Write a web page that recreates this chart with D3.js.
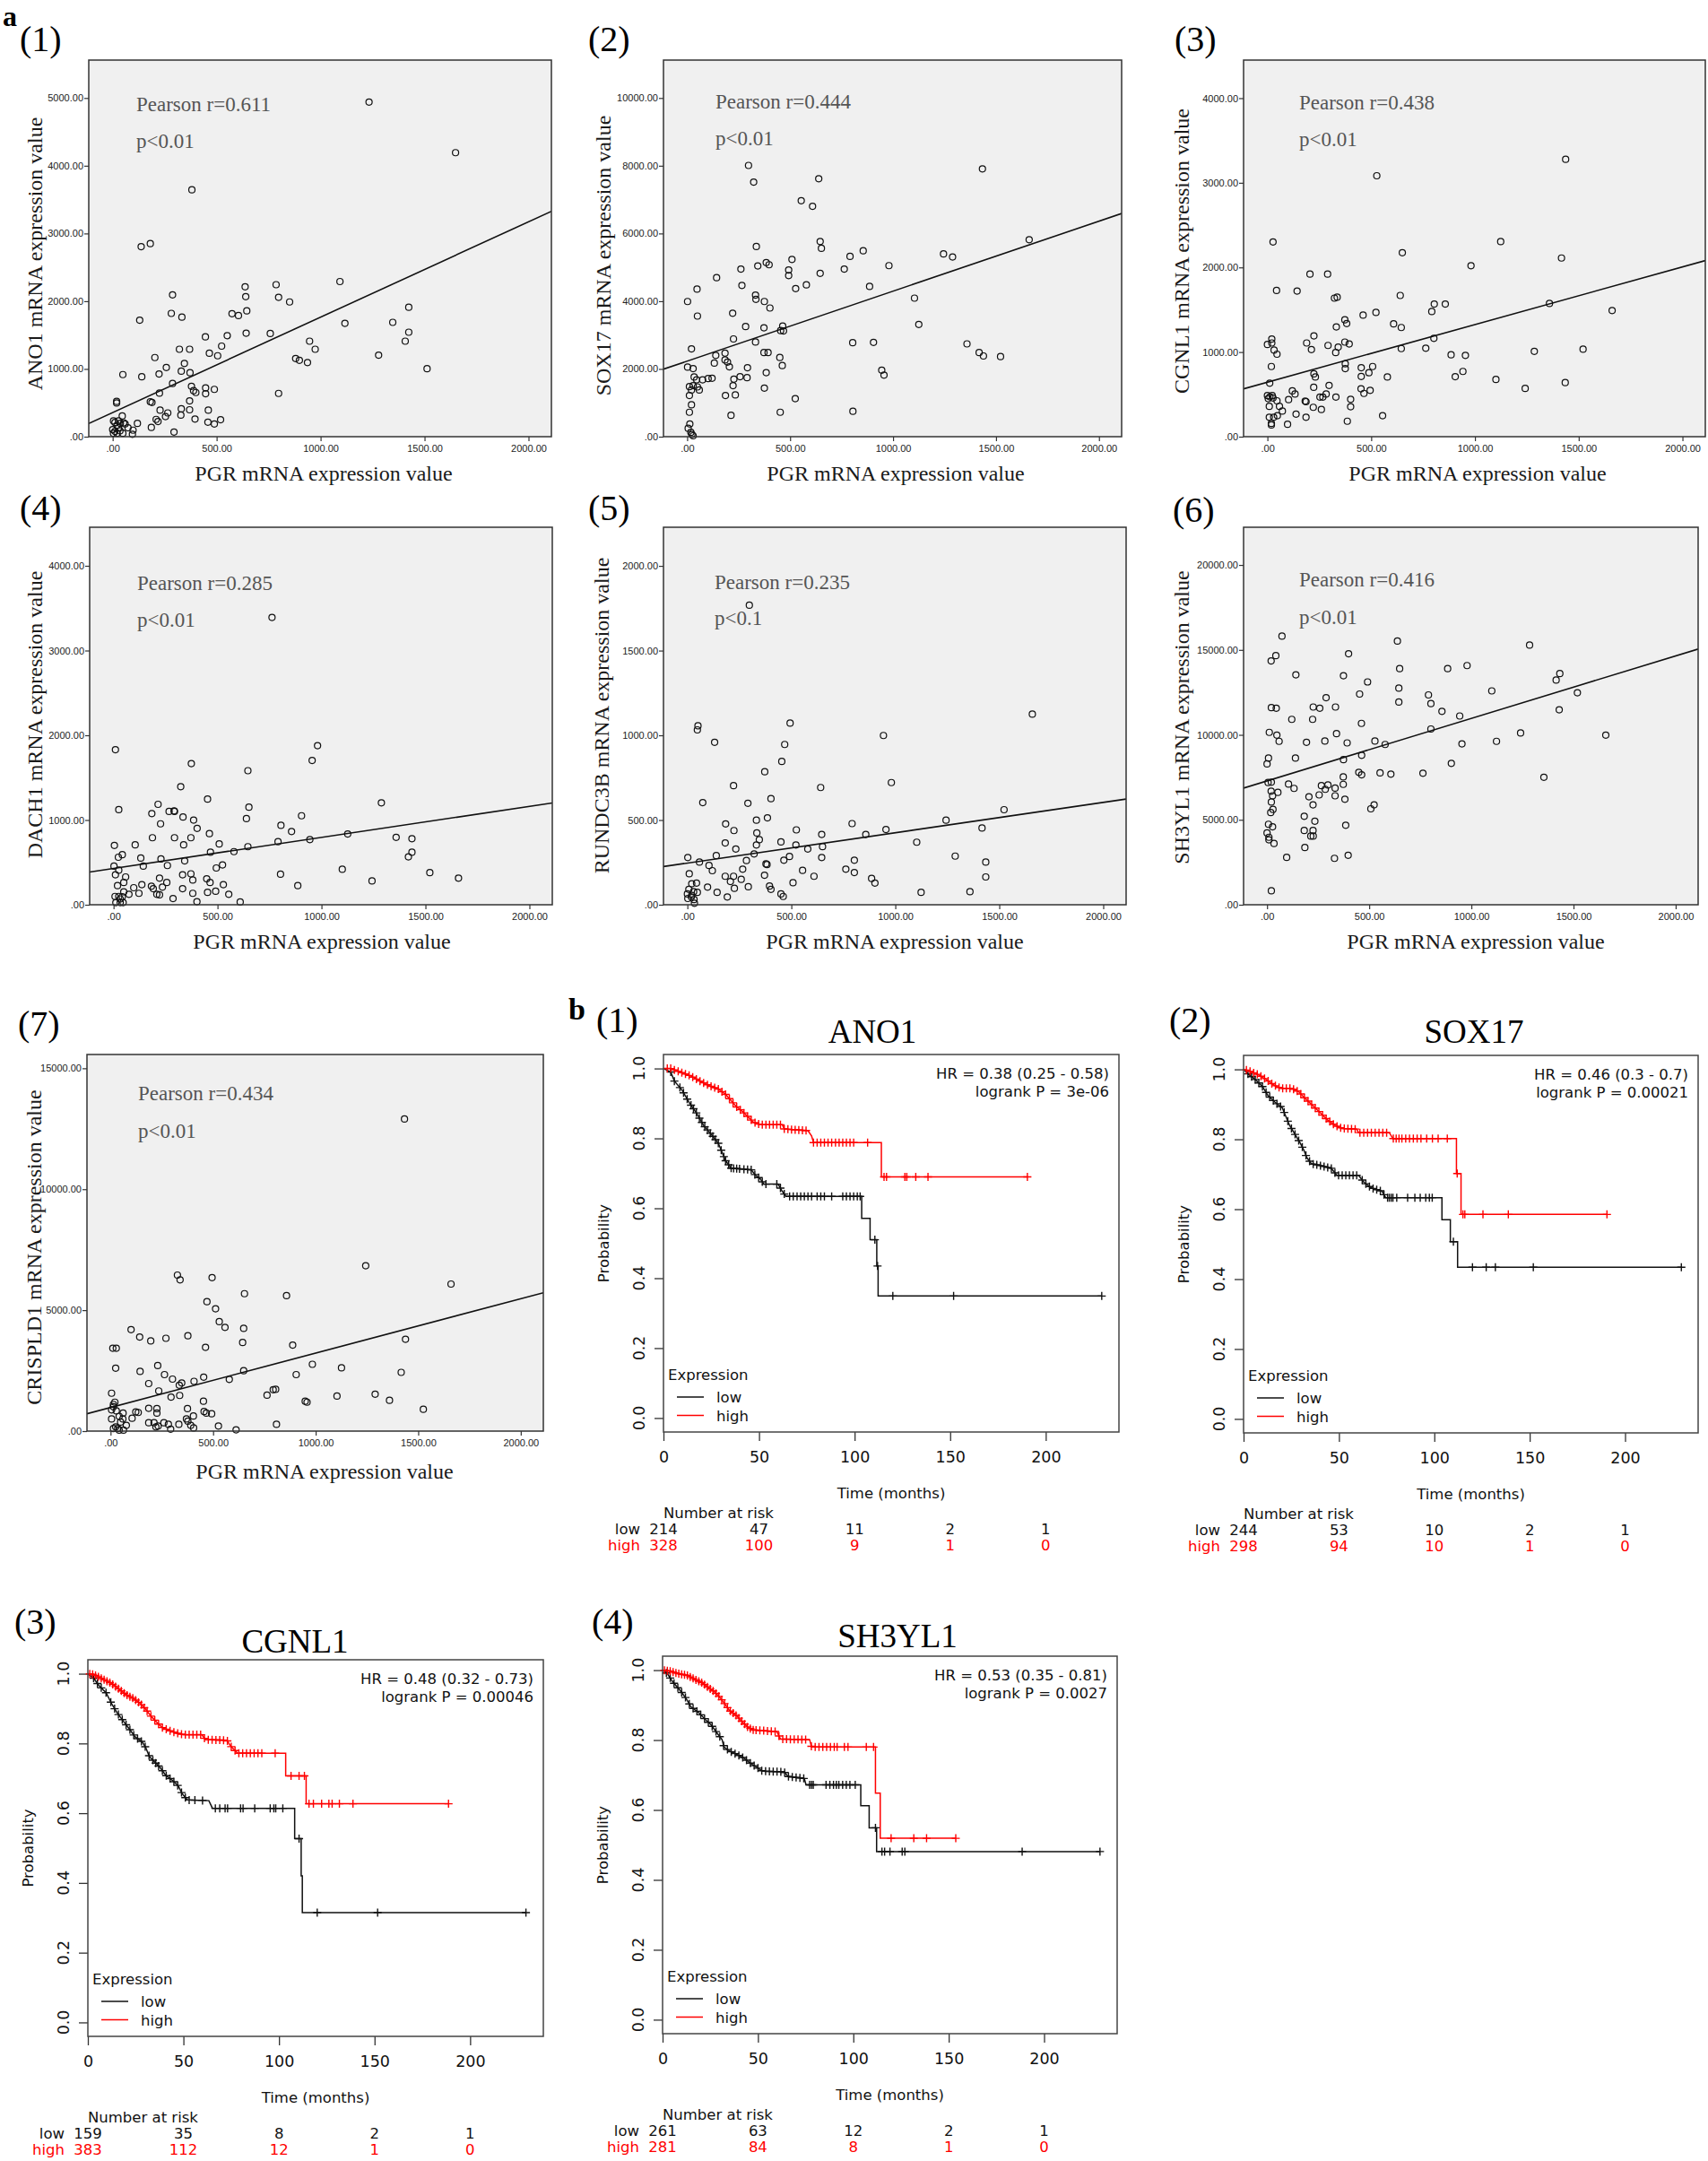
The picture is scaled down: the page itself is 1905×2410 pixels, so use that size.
<!DOCTYPE html>
<html><head><meta charset="utf-8">
<script src="https://cdn.jsdelivr.net/npm/d3@7"></script>
<style>body{margin:0;background:#fff}svg{display:block}</style>
</head><body><svg id="fig" width="1905" height="2410"></svg>
<script>
// ---------------- DATA: scatter panels (a) ----------------
const scatterGenes = ["ANO1","SOX17","CGNL1","DACH1","RUNDC3B","SH3YL1","CRISPLD1"];
const pearsonLabels = ["Pearson r=0.611","Pearson r=0.444","Pearson r=0.438","Pearson r=0.285","Pearson r=0.235","Pearson r=0.416","Pearson r=0.434"];
const pLabels = ["p<0.01","p<0.01","p<0.01","p<0.01","p<0.1","p<0.01","p<0.01"];
const fitIntercepts = [356.5, 2231, 644, 429, 246, 7290, 977];
const fitSlopes = [1.408, 2.066, 0.681, 0.366, 0.179, 3.679, 2.248];
const xTicksPGR = [0,500,1000,1500,2000];
const yTicksList = [
  [0,1000,2000,3000,4000,5000],
  [0,2000,4000,6000,8000,10000],
  [0,1000,2000,3000,4000],
  [0,1000,2000,3000,4000],
  [0,500,1000,1500,2000],
  [0,5000,10000,15000,20000],
  [0,5000,10000,15000]
];
const ano1Pts = [[1233,4940],[1649,4193],[381,3645],[137,2806],[181,2851],[1093,2290],[786,2244],[637,2213],[288,2094],[640,2067],[798,2058],[851,1989],[1424,1911],[645,1857],[282,1820],[333,1765],[574,1816],[605,1788],[130,1720],[1117,1674],[1347,1688],[1424,1542],[446,1474],[551,1492],[642,1528],[758,1524],[1407,1410],[947,1410],[974,1291],[321,1291],[370,1291],[524,1337],[465,1232],[505,1195],[1279,1204],[203,1168],[880,1154],[898,1127],[937,1095],[1512,1004],[49,917],[140,885],[223,926],[258,1022],[345,1081],[330,967],[372,944],[288,785],[379,744],[389,680],[400,652],[447,721],[489,698],[447,634],[225,643],[798,639],[19,520],[19,497],[181,516],[189,506],[370,529],[228,392],[330,411],[370,397],[460,392],[46,306],[265,351],[254,297],[328,319],[209,255],[218,224],[396,260],[458,214],[519,251],[489,187],[119,196],[74,132],[98,96],[186,137],[295,68],[95,36],[53,205],[60,187],[4,233],[11,210],[21,169],[28,132],[0,105],[11,78],[35,87],[21,50],[4,50],[49,50],[28,233],[37,196]];
const sox17Pts = [[298,8009],[323,7516],[639,7616],[1434,7908],[554,6968],[609,6803],[1661,5817],[646,5762],[652,5561],[336,5616],[855,5488],[1245,5397],[1289,5306],[791,5324],[509,5233],[384,5141],[398,5077],[343,5041],[980,5050],[261,4950],[763,4950],[493,4922],[646,4822],[493,4758],[143,4694],[579,4484],[266,4466],[886,4438],[527,4374],[48,4356],[1104,4091],[332,4182],[334,4055],[2,3991],[375,3991],[402,3799],[221,3644],[50,3561],[1125,3315],[284,3251],[464,3269],[373,3214],[454,3132],[468,3123],[225,2886],[332,2794],[804,2776],[905,2785],[1359,2740],[21,2594],[373,2484],[393,2484],[1418,2484],[1439,2383],[1522,2365],[184,2466],[139,2402],[132,2173],[184,2265],[196,2201],[205,2064],[450,2338],[462,2100],[2,2055],[29,2009],[293,2036],[945,1963],[956,1817],[384,1890],[34,1762],[46,1680],[75,1680],[102,1717],[121,1726],[257,1772],[291,1744],[227,1699],[11,1479],[29,1507],[21,1379],[50,1470],[59,1379],[223,1507],[375,1434],[11,1215],[186,1215],[234,1233],[525,1123],[21,941],[452,721],[805,749],[11,721],[213,630],[13,374],[5,247],[18,128],[23,64],[29,27]];
const cgnl1Pts = [[1437,3277],[527,3083],[27,2301],[1124,2305],[650,2174],[1417,2111],[981,2020],[205,1921],[290,1921],[44,1728],[143,1721],[640,1669],[323,1637],[336,1648],[804,1567],[857,1567],[1359,1574],[1661,1490],[792,1479],[523,1468],[461,1436],[608,1333],[373,1381],[382,1337],[332,1297],[645,1290],[224,1191],[21,1154],[21,1107],[0,1089],[189,1107],[373,1118],[394,1096],[292,1078],[212,1030],[32,1023],[46,975],[341,1059],[329,994],[802,1162],[645,1041],[763,1045],[1286,1008],[1521,1034],[885,968],[954,961],[19,829],[452,815],[375,804],[375,862],[507,829],[489,756],[452,712],[224,742],[231,705],[578,705],[905,709],[942,771],[1101,676],[11,632],[297,606],[223,584],[451,566],[495,548],[1242,570],[1435,639],[120,541],[133,504],[283,504],[267,468],[253,468],[465,511],[0,486],[12,471],[23,486],[4,449],[27,457],[46,424],[102,438],[182,420],[186,413],[330,468],[401,442],[9,358],[58,358],[221,347],[401,354],[72,303],[138,267],[260,321],[48,248],[9,230],[30,230],[186,230],[555,248],[385,183],[19,157],[19,139],[97,146]];
const dach1Pts = [[762,3391],[9,1830],[981,1878],[955,1703],[374,1666],[646,1582],[323,1393],[452,1247],[1288,1203],[214,1185],[25,1123],[267,1101],[291,1108],[293,1101],[184,1076],[651,1152],[334,1035],[385,999],[639,1017],[904,1050],[805,937],[226,955],[402,901],[856,864],[1126,835],[461,839],[187,791],[293,791],[372,791],[1359,795],[1435,780],[791,744],[944,769],[508,718],[4,700],[104,707],[337,707],[646,685],[1435,620],[466,620],[579,627],[1418,565],[23,561],[42,591],[131,551],[228,540],[342,518],[2,456],[143,456],[259,463],[524,470],[494,434],[25,408],[1521,379],[332,354],[372,365],[1100,419],[803,361],[9,354],[58,328],[221,314],[1659,314],[448,306],[381,292],[49,263],[464,263],[256,263],[1243,281],[136,237],[528,237],[19,226],[886,226],[182,219],[97,201],[235,208],[332,190],[191,190],[49,153],[491,160],[452,146],[122,135],[74,124],[208,124],[221,117],[381,135],[554,124],[7,98],[25,98],[286,73],[32,69],[42,95],[11,26],[32,26],[46,26],[401,36],[609,33]];
const rundc3bPts = [[298,1768],[1659,1125],[51,1056],[48,1032],[494,1072],[943,999],[131,959],[468,946],[454,846],[372,785],[981,721],[222,703],[641,692],[402,626],[74,603],[291,599],[1523,561],[385,513],[332,499],[1244,499],[184,477],[792,479],[1417,453],[224,438],[524,442],[955,444],[334,424],[646,415],[858,415],[346,384],[182,365],[450,371],[1103,369],[332,353],[522,353],[650,343],[233,329],[579,329],[321,300],[139,290],[2,279],[491,285],[646,279],[1288,287],[284,261],[464,263],[803,263],[58,252],[1435,252],[378,241],[383,237],[104,232],[120,201],[266,210],[554,203],[762,210],[803,190],[9,183],[371,174],[182,168],[222,168],[609,168],[1435,164],[886,155],[259,150],[207,137],[21,124],[44,128],[508,130],[902,128],[395,110],[97,104],[293,106],[226,97],[7,91],[402,91],[30,77],[48,73],[143,73],[1124,73],[1359,77],[0,64],[21,55],[450,64],[461,49],[192,46],[2,37],[32,31],[34,9],[19,46]];
const sh3yl1Pts = [[73,15810],[638,15519],[1285,15282],[399,14773],[43,14663],[20,14353],[979,14080],[884,13898],[649,13898],[1433,13607],[141,13534],[374,13479],[1415,13224],[492,13115],[645,12751],[1100,12587],[453,12404],[1519,12477],[790,12350],[289,12186],[645,11931],[802,11840],[1430,11475],[21,11603],[45,11567],[226,11639],[258,11567],[335,11639],[856,11384],[943,11111],[121,10911],[223,10911],[462,10674],[802,10346],[1241,10109],[1658,9982],[11,10146],[48,9982],[340,10073],[59,9618],[193,9563],[283,9636],[392,9527],[528,9636],[1123,9618],[578,9435],[954,9472],[7,8634],[0,8288],[139,8634],[374,8543],[463,8798],[902,8324],[449,7796],[463,7650],[553,7760],[606,7687],[763,7742],[373,7523],[1355,7505],[5,7195],[21,7213],[105,7104],[132,6849],[266,7013],[298,7049],[285,6794],[373,7085],[333,6867],[20,6685],[53,6612],[27,6412],[205,6357],[255,6466],[333,6412],[381,6211],[21,6047],[225,5883],[524,5883],[29,5610],[18,5428],[508,5647],[182,5209],[234,4918],[7,4736],[27,4590],[385,4681],[182,4372],[225,4372],[0,4226],[9,3971],[9,3825],[214,4044],[226,4044],[34,3607],[185,3370],[96,2787],[330,2732],[397,2914],[21,820]];
const crispld1Pts = [[1433,12902],[1244,6836],[326,6451],[339,6252],[495,6345],[1660,6080],[653,5682],[858,5602],[470,5349],[512,5057],[530,4526],[558,4288],[649,4248],[100,4195],[142,3889],[196,3730],[270,3836],[377,3942],[644,3664],[1438,3796],[888,3557],[463,3465],[11,3425],[28,3425],[984,2761],[230,2708],[1126,2615],[25,2602],[649,2496],[144,2469],[1417,2429],[263,2336],[905,2336],[454,2230],[302,2150],[579,2137],[407,2058],[347,1991],[335,1898],[186,1965],[805,1726],[793,1712],[235,1659],[5,1566],[763,1487],[1290,1527],[1104,1447],[295,1407],[337,1473],[21,1195],[14,1102],[949,1234],[958,1195],[1360,1274],[453,1234],[14,1009],[186,942],[226,929],[375,929],[1525,903],[5,876],[28,836],[123,796],[135,770],[226,743],[61,743],[456,810],[467,743],[493,717],[404,624],[42,611],[105,531],[5,504],[60,504],[370,504],[377,411],[49,372],[186,345],[212,345],[260,345],[282,279],[333,279],[77,239],[809,279],[526,212],[391,239],[232,212],[221,173],[25,173],[405,133],[14,106],[35,106],[293,80],[612,53],[42,40],[63,40]];
const scatterPoints = [ano1Pts, sox17Pts, cgnl1Pts, dach1Pts, rundc3bPts, sh3yl1Pts, crispld1Pts];

// ---------------- DATA: Kaplan-Meier panels (b) ----------------
const kmGenes = ["ANO1","SOX17","CGNL1","SH3YL1"];
const kmTimeTicks = [0,50,100,150,200];
const kmProbTicks = [0,0.2,0.4,0.6,0.8,1.0];
const hrLabels = ["HR = 0.38 (0.25 - 0.58)","HR = 0.46 (0.3 - 0.7)","HR = 0.48 (0.32 - 0.73)","HR = 0.53 (0.35 - 0.81)"];
const logrankLabels = ["logrank P = 3e-06","logrank P = 0.00021","logrank P = 0.00046","logrank P = 0.0027"];
const riskLow = [[214,47,11,2,1],[244,53,10,2,1],[159,35,8,2,1],[261,63,12,2,1]];
const riskHigh = [[328,100,9,1,0],[298,94,10,1,0],[383,112,12,1,0],[281,84,8,1,0]];

const ano1Low = [[0,1],[3.8,0.99],[5.7,0.964],[9.6,0.939],[13.4,0.903],[17.2,0.873],[21,0.837],[24.9,0.812],[28.7,0.786],[30.6,0.761],[32.5,0.736],[35.4,0.715],[46,0.71],[48,0.695],[50.5,0.685],[52.6,0.669],[60,0.669],[62,0.65],[64.1,0.634],[103.7,0.634],[103.7,0.571],[108.1,0.571],[108.1,0.51],[111.6,0.51],[111.6,0.435],[112.3,0.435],[112.3,0.349],[229.3,0.349]];
const ano1High = [[0,1],[3.8,1.0],[9.6,0.988],[14.4,0.978],[19.1,0.964],[23.9,0.951],[28.7,0.941],[32.5,0.926],[35.4,0.908],[38.3,0.89],[41.1,0.878],[44,0.863],[46.9,0.847],[50.7,0.839],[62.2,0.839],[63.2,0.827],[75.6,0.822],[77.5,0.807],[78.5,0.788],[114,0.788],[114,0.69],[190.4,0.69]];
const sox17Low = [[0,1],[2.3,0.987],[6.1,0.971],[9.9,0.951],[12.7,0.926],[16.5,0.906],[20.3,0.89],[22.2,0.865],[24.1,0.84],[27,0.814],[29.8,0.788],[31.7,0.768],[33.1,0.748],[35.6,0.73],[39.4,0.726],[46,0.717],[48.9,0.697],[60.3,0.697],[63.1,0.677],[66.9,0.661],[72.6,0.651],[74.5,0.633],[104,0.633],[104,0.57],[108.4,0.57],[108.4,0.507],[112.2,0.507],[112.2,0.434],[229.5,0.434]];
const sox17High = [[0,1],[2.3,0.997],[8,0.984],[11.8,0.971],[15.6,0.956],[19.4,0.946],[25.1,0.946],[28.9,0.936],[31.7,0.92],[34.6,0.905],[37.5,0.89],[40.3,0.875],[44.1,0.855],[47.9,0.84],[51.7,0.831],[59.3,0.829],[60.3,0.819],[76.4,0.819],[78.3,0.802],[111.6,0.802],[111.6,0.702],[114,0.702],[114,0.585],[190.5,0.585]];
const cgnl1Low = [[0,1],[3,0.987],[5.8,0.966],[9.6,0.945],[12.4,0.914],[15.3,0.888],[19,0.861],[21.9,0.84],[24.7,0.819],[28.5,0.804],[30.3,0.788],[32.2,0.762],[35.1,0.746],[37.9,0.73],[40.7,0.709],[44.5,0.693],[47.3,0.678],[49.2,0.657],[52,0.638],[63.3,0.636],[65.2,0.614],[108.2,0.614],[108.2,0.527],[111.6,0.527],[111.6,0.42],[112.2,0.42],[112.2,0.315],[229.2,0.315]];
const cgnl1High = [[0,1],[3,0.998],[8.7,0.982],[12.4,0.972],[16.2,0.956],[20,0.94],[23.8,0.929],[27.5,0.914],[30.3,0.898],[33.2,0.877],[36,0.861],[38.8,0.846],[42.6,0.837],[46.4,0.83],[50.1,0.825],[59.6,0.825],[61.5,0.811],[72.8,0.809],[74.6,0.793],[78.4,0.772],[103.5,0.772],[103.5,0.707],[114.2,0.707],[114.2,0.627],[188.7,0.627]];
const sh3yl1Low = [[0,1],[2.5,0.99],[5.4,0.966],[9.2,0.942],[12.1,0.921],[14.9,0.895],[18.8,0.879],[22.6,0.858],[25.5,0.843],[28.3,0.822],[31.2,0.801],[32.2,0.78],[35,0.769],[38.9,0.759],[42.7,0.748],[46.5,0.732],[49.4,0.722],[52.3,0.711],[63.7,0.709],[65.7,0.696],[74.3,0.69],[75.2,0.672],[103.9,0.672],[103.9,0.612],[108.3,0.612],[108.3,0.549],[112.2,0.549],[112.2,0.481],[229.3,0.481]];
const sh3yl1High = [[0,1],[3.4,0.998],[8.2,0.99],[13,0.985],[16.8,0.974],[20.7,0.964],[24.5,0.948],[27.4,0.937],[30.2,0.921],[33.1,0.9],[35,0.885],[38.9,0.869],[41.7,0.853],[44.6,0.837],[47.5,0.829],[59.9,0.824],[61.8,0.803],[77.1,0.801],[78.1,0.78],[111.6,0.78],[111.6,0.648],[114.1,0.648],[114.1,0.519],[153.7,0.519]];

const ano1LowCens = [3.8,5.7,8.6,10.5,12.4,14.4,15.7,17.2,18.8,20.1,21.6,23,24.5,25.8,27.2,28.7,30.2,31.6,32.5,34.1,35.4,36.7,38.3,39.8,42.1,44,45.9,47.8,49.8,51.7,53.6,59.3,61.2,63.2,66,67.9,69.9,71.8,73.7,75.6,77.5,80.4,82.3,84.2,88,93.8,95.7,97.6,99.5,101.4,102.9,110.6,112,120,151.8,229.3];
const ano1HighCens = [2,3.8,5.7,7.7,9.6,11.5,13.4,15.3,17.2,19.1,21,23,24.9,26.8,28.7,30.6,32.5,34.5,36.4,38.3,40.2,42.1,44,45.9,47.9,49.8,51.7,53.6,55.5,57.4,59.3,61.2,63.2,65.1,67,68.9,70.8,72.7,74.6,78.5,80.4,82.3,84.2,86.1,88,90,91.9,93.8,95.7,97.6,99.5,106.8,115.4,116.7,126.3,127.3,132,138.4,190.4];
const sox17LowCens = [2.3,4.2,6.1,8,9.9,11.8,13.7,15.6,17.5,19.4,21.3,23.2,25.1,27,28.9,30.8,32.7,34.6,36.5,38.4,40.3,42.2,44.1,46,47.9,49.8,51.7,53.6,55.5,57.4,59.3,62.2,64.1,66,67.9,69.8,71.7,73.6,75.5,76.4,77.4,78.3,80.3,86,89.8,92.6,95.5,97.4,98.9,110,120,127.2,132,151.9,229.5];
const sox17HighCens = [1.5,3.4,5.3,7.2,9.1,11,12.9,14.8,16.7,18.6,20.5,22.4,24.3,26.2,28.1,30,31.9,33.8,35.7,37.6,39.5,41.4,43.3,45.2,47.1,49,50.9,52.8,54.7,56.6,58.5,61,63,65,67,69,71,73,75,78.5,80,81.5,83,85,87,89,91,93,96,99,102,106.8,112,115,116,125.5,138.8,190.5];
const cgnl1LowCens = [3,5,7,9.5,12,14,16,18,20,22,24,26,28,30,32,34,35.5,37,39,41,43,45,47,49,51,53,56,60,66.7,69,71.8,73.1,79.9,81.2,87.3,95.4,97.3,98.3,102,110.5,120,151.6,229.2];
const cgnl1HighCens = [1,2.5,4,5.5,7,8.5,10,11.5,13,14.5,16,17.5,19,20.5,22,23.5,25,26.5,28,29.5,31,33,35,37,39,41,43,45,47,49,51,53,55,57,59,61,63,65,67,69,71,73,75,77,79,81,83,85,87,89,91,98,106.3,110.5,113.3,115.7,118,122.3,126.1,127.8,131.6,138.7,188.7];
const sh3yl1LowCens = [2,4,6,8,10,12,14,16,18,20,22,24,26,28,30,32,34,36,38,40,42,44,46,48,50,52,54,56,58,60,62,64,66,68,70,72,74,77.1,78.1,79,85.7,87.7,89.6,91.1,92.4,94.4,96.3,98.2,101,111.6,115,116.4,119.2,125.6,127,188.5,229.3];
const sh3yl1HighCens = [1,2.5,4,5.5,7,8.5,10,11.5,13,14.5,16,17.5,19,20.5,22,23.5,25,26.5,28,29.5,31,32.5,34,35.5,37,38.5,40,41.5,43,44.5,46,47.5,49,51,53,55,57,59,61,63,65,67,69,71,73,75,78,80,82,84,86,88,90,91.5,95.3,97.2,106.8,110.6,119.8,131.7,138.4,153.7];

const kmLowCurves = [ano1Low, sox17Low, cgnl1Low, sh3yl1Low];
const kmHighCurves = [ano1High, sox17High, cgnl1High, sh3yl1High];
const kmLowCens = [ano1LowCens, sox17LowCens, cgnl1LowCens, sh3yl1LowCens];
const kmHighCens = [ano1HighCens, sox17HighCens, cgnl1HighCens, sh3yl1HighCens];

// ---------------- LAYOUT ----------------
const scatterLayout = [
 {left:99, top:67, right:615, bottom:487, yMax:5560, tag:"(1)", tagX:22, tagY:57, statX:152, statY:124, pY:165, yTitleX:47, yTitleY:283, xTitleX:361, xTitleY:536},
 {left:740, top:67, right:1251, bottom:487, yMax:11120, tag:"(2)", tagX:656, tagY:57, statX:798, statY:121, pY:162, yTitleX:681, yTitleY:285, xTitleX:999, xTitleY:536},
 {left:1387, top:67, right:1902, bottom:487, yMax:4450, tag:"(3)", tagX:1310, tagY:57, statX:1449, statY:122, pY:163, yTitleX:1326, yTitleY:280, xTitleX:1648, xTitleY:536},
 {left:100, top:588, right:616, bottom:1009, yMax:4455, tag:"(4)", tagX:22, tagY:580, statX:153, statY:658, pY:699, yTitleX:47, yTitleY:797, xTitleX:359, xTitleY:1058},
 {left:740, top:588, right:1256, bottom:1009, yMax:2228, tag:"(5)", tagX:656, tagY:580, statX:797, statY:657, pY:697, yTitleX:679, yTitleY:798, xTitleX:998, xTitleY:1058},
 {left:1387, top:588, right:1894, bottom:1009, yMax:22220, tag:"(6)", tagX:1308, tagY:582, statX:1449, statY:654, pY:696, yTitleX:1326, yTitleY:800, xTitleX:1646, xTitleY:1058},
 {left:97, top:1176, right:606, bottom:1596, yMax:15570, tag:"(7)", tagX:20, tagY:1155, statX:154, statY:1227, pY:1269, yTitleX:46, yTitleY:1391, xTitleX:362, xTitleY:1649}
];
const kmLayout = [
 {left:740, top:1176, right:1248, bottom:1597, titleX:973, titleY:1163, tag:"(1)", tagX:665, tagY:1151},
 {left:1387, top:1177, right:1894, bottom:1598, titleX:1644, titleY:1163, tag:"(2)", tagX:1304, tagY:1151},
 {left:98, top:1851, right:606, bottom:2271, titleX:329, titleY:1843, tag:"(3)", tagX:16, tagY:1822},
 {left:739, top:1847, right:1246, bottom:2268, titleX:1001, titleY:1837, tag:"(4)", tagX:660, tagY:1822}
];

const SERIF = "'Liberation Serif','Times New Roman',serif";
const SANS = "'DejaVu Sans','Verdana',sans-serif";
const ARIAL = "'Liberation Sans',Arial,sans-serif";
const RED = "#ff0000";

const svg = d3.select("#fig");
svg.append("rect").attr("width",1905).attr("height",2410).attr("fill","#fff");

function txt(g, x, y, s, o) {
  const t = g.append("text").attr("x",x).attr("y",y).text(s)
    .attr("font-family",o.family||SERIF).attr("font-size",o.size||16)
    .attr("fill",o.fill||"#000").attr("text-anchor",o.anchor||"start");
  if (o.weight) t.attr("font-weight",o.weight);
  if (o.rotate) t.attr("transform",`rotate(${o.rotate},${x},${y})`);
  return t;
}

const fmtPGR = d => d === 0 ? ".00" : d.toFixed(2);

// ---------------- Scatter panels ----------------
scatterLayout.forEach((L, i) => {
  const g = svg.append("g");
  const x = d3.scaleLinear().domain([-115, 2110]).range([L.left, L.right]);
  const y = d3.scaleLinear().domain([0, L.yMax]).range([L.bottom, L.top]);
  g.append("rect").attr("x",L.left).attr("y",L.top).attr("width",L.right-L.left).attr("height",L.bottom-L.top).attr("fill","#f0f0f0");
  const ax = g.append("g").attr("transform",`translate(0,${L.bottom})`)
    .call(d3.axisBottom(x).tickValues(xTicksPGR).tickSize(5).tickPadding(4).tickFormat(fmtPGR));
  const ay = g.append("g").attr("transform",`translate(${L.left},0)`)
    .call(d3.axisLeft(y).tickValues(yTicksList[i]).tickSize(5).tickPadding(1).tickFormat(fmtPGR));
  [ax, ay].forEach(a => {
    a.select(".domain").remove();
    a.selectAll("line").attr("stroke","#333").attr("stroke-width",1.2);
    a.selectAll("text").attr("font-family",ARIAL).attr("font-size",11).attr("fill","#222");
  });
  const clipId = "clip" + i;
  g.append("clipPath").attr("id",clipId).append("rect").attr("x",L.left).attr("y",L.top).attr("width",L.right-L.left).attr("height",L.bottom-L.top);
  const inner = g.append("g").attr("clip-path",`url(#${clipId})`);
  const x0 = -115, x1 = 2110;
  inner.append("line").attr("x1",x(x0)).attr("x2",x(x1))
    .attr("y1",y(fitIntercepts[i] + fitSlopes[i]*x0)).attr("y2",y(fitIntercepts[i] + fitSlopes[i]*x1))
    .attr("stroke","#111").attr("stroke-width",1.6);
  g.selectAll("circle.pt").data(scatterPoints[i]).join("circle").attr("class","pt")
    .attr("cx",d=>x(d[0])).attr("cy",d=>y(d[1])).attr("r",3.5)
    .attr("fill","none").attr("stroke","#111").attr("stroke-width",1.2);
  g.append("rect").attr("x",L.left).attr("y",L.top).attr("width",L.right-L.left).attr("height",L.bottom-L.top)
    .attr("fill","none").attr("stroke","#333").attr("stroke-width",1.5);
  txt(g, L.statX, L.statY, pearsonLabels[i], {size:23, fill:"#555"});
  txt(g, L.statX, L.pY, pLabels[i], {size:23, fill:"#555"});
  txt(g, L.yTitleX, L.yTitleY, scatterGenes[i] + " mRNA expression value", {size:24, fill:"#1a1a1a", anchor:"middle", rotate:-90});
  txt(g, L.xTitleX, L.xTitleY, "PGR mRNA expression value", {size:24, fill:"#1a1a1a", anchor:"middle"});
  txt(g, L.tagX, L.tagY, L.tag, {size:40});
});

txt(svg, 3, 29, "a", {size:32, weight:"bold"});
txt(svg, 634, 1137, "b", {size:34, weight:"bold"});

// ---------------- KM panels ----------------
function survAt(v, t) {
  for (let k = 0; k < v.length - 1; k++) {
    const a = v[k], b = v[k+1];
    if (b[0] > a[0] && t >= a[0] && t <= b[0]) {
      return a[1] + (b[1]-a[1]) * (t - a[0]) / (b[0]-a[0]);
    }
  }
  return v[v.length-1][1];
}

kmLayout.forEach((L, i) => {
  const g = svg.append("g");
  const x = d3.scaleLinear().domain([0, 238.3]).range([L.left, L.right]);
  const y = d3.scaleLinear().domain([-0.04, 1.04]).range([L.bottom, L.top]);
  const ax = g.append("g").attr("transform",`translate(0,${L.bottom})`)
    .call(d3.axisBottom(x).tickValues(kmTimeTicks).tickSize(10).tickPadding(12).tickFormat(d3.format("d")));
  const ay = g.append("g").attr("transform",`translate(${L.left},0)`)
    .call(d3.axisLeft(y).tickValues(kmProbTicks).tickSize(10).tickFormat(""));
  [ax, ay].forEach(a => {
    a.select(".domain").remove();
    a.selectAll("line").attr("stroke","#333").attr("stroke-width",1.3);
  });
  ax.selectAll("text").attr("font-family",SANS).attr("font-size",17.5).attr("fill","#111");
  kmProbTicks.forEach(v => txt(g, L.left-21, y(v), d3.format(".1f")(v), {family:SANS, size:17.5, fill:"#111", anchor:"middle", rotate:-90}));

  const line = d3.line().x(d=>x(d[0])).y(d=>y(d[1]));
  const cross = "M-4.5,0H4.5M0,-4.5V4.5";
  [[kmLowCurves[i], kmLowCens[i], "#111"], [kmHighCurves[i], kmHighCens[i], RED]].forEach(([curve, cens, col]) => {
    g.append("path").attr("d", line(curve)).attr("fill","none").attr("stroke",col).attr("stroke-width",1.5);
    g.selectAll(null).data(cens).join("path")
      .attr("d", cross)
      .attr("transform", t => `translate(${x(t)},${y(survAt(curve, t))})`)
      .attr("stroke", col).attr("stroke-width",1.4).attr("fill","none");
  });

  g.append("rect").attr("x",L.left).attr("y",L.top).attr("width",L.right-L.left).attr("height",L.bottom-L.top)
    .attr("fill","none").attr("stroke","#444").attr("stroke-width",1.5);

  txt(g, L.right-11, L.top+27, hrLabels[i], {family:SANS, size:16.5, fill:"#111", anchor:"end"});
  txt(g, L.right-11, L.top+47, logrankLabels[i], {family:SANS, size:16.5, fill:"#111", anchor:"end"});

  txt(g, L.left+5, L.bottom-58, "Expression", {family:SANS, size:16.5, fill:"#111"});
  g.append("line").attr("x1",L.left+15).attr("x2",L.left+45).attr("y1",L.bottom-39).attr("y2",L.bottom-39).attr("stroke","#111").attr("stroke-width",1.5);
  g.append("line").attr("x1",L.left+15).attr("x2",L.left+45).attr("y1",L.bottom-18.5).attr("y2",L.bottom-18.5).attr("stroke",RED).attr("stroke-width",1.5);
  txt(g, L.left+59, L.bottom-33, "low", {family:SANS, size:16.5, fill:"#111"});
  txt(g, L.left+59, L.bottom-12.5, "high", {family:SANS, size:16.5, fill:"#111"});

  txt(g, L.left-61, (L.top+L.bottom)/2, "Probability", {family:SANS, size:16.5, fill:"#111", anchor:"middle", rotate:-90});
  txt(g, (L.left+L.right)/2, L.bottom+74, "Time (months)", {family:SANS, size:16.5, fill:"#111", anchor:"middle"});
  txt(g, L.left, L.bottom+96, "Number at risk", {family:SANS, size:16.5, fill:"#111"});
  txt(g, L.left-26, L.bottom+114, "low", {family:SANS, size:16.5, fill:"#111", anchor:"end"});
  txt(g, L.left-26, L.bottom+132, "high", {family:SANS, size:16.5, fill:RED, anchor:"end"});
  kmTimeTicks.forEach((t, k) => {
    txt(g, x(t), L.bottom+114, String(riskLow[i][k]), {family:SANS, size:16.5, fill:"#111", anchor:"middle"});
    txt(g, x(t), L.bottom+132, String(riskHigh[i][k]), {family:SANS, size:16.5, fill:RED, anchor:"middle"});
  });

  txt(g, L.titleX, L.titleY, kmGenes[i], {size:37, anchor:"middle"});
  txt(g, L.tagX, L.tagY, L.tag, {size:40});
});
</script></body></html>
